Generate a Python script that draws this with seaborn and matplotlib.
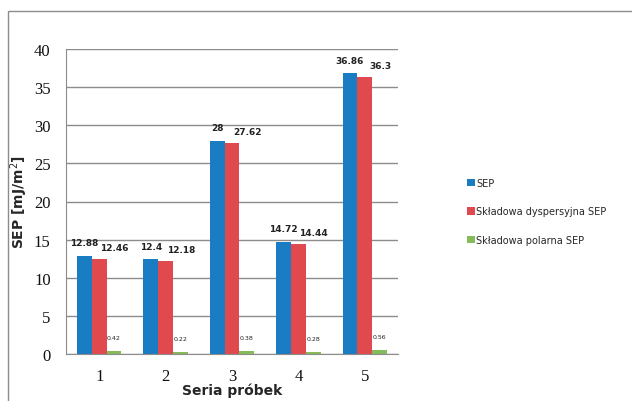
import pandas as pd
import matplotlib.pyplot as plt
import seaborn as sns
from matplotlib.patches import Rectangle
from matplotlib.ticker import FixedLocator

series = ['1', '2', '3', '4', '5']
sep = [12.88, 12.4, 28, 14.72, 36.86]
sep_disp = [12.46, 12.18, 27.62, 14.44, 36.3]
sep_pol = [0.42, 0.22, 0.38, 0.28, 0.56]
names = ['SEP', 'Składowa dyspersyjna SEP', 'Składowa polarna SEP']
colors = ['#1a7cc2', '#e04a4f', '#86bb5a']


def make_chart():
    rows = []
    for name, vals in zip(names, [sep, sep_disp, sep_pol]):
        for s, v in zip(series, vals):
            rows.append({'seria': s, 'wartosc': v, 'skladowa': name})
    df = pd.DataFrame(rows)

    sns.set_style('white')
    fig = plt.figure(figsize=(6.32, 4.02), dpi=100)
    ax = fig.add_axes([66/632, 47/402, 332/632, 305/402])

    sns.barplot(data=df, x='seria', y='wartosc', hue='skladowa',
                palette=colors, width=0.67, gap=0, ax=ax, linewidth=0,
                saturation=1, errorbar=None, legend=True)

    ax.set_ylim(0, 40)
    ax.set_xlim(-0.5, 4.5)
    ax.set_yticks(range(0, 41, 5))
    ax.grid(axis='y', color='#8c8c8c', linewidth=1)
    ax.set_axisbelow(True)
    for side in ['top', 'right']:
        ax.spines[side].set_visible(False)
    for side in ['left', 'bottom']:
        ax.spines[side].set_color('#8c8c8c')
    ax.tick_params(axis='y', length=5, color='#8c8c8c', pad=6)
    ax.tick_params(axis='x', which='major', length=0, pad=10)
    ax.xaxis.set_minor_locator(FixedLocator([-0.5, 0.5, 1.5, 2.5, 3.5, 4.5]))
    ax.tick_params(axis='x', which='minor', length=6, color='#8c8c8c')
    for lab in ax.get_xticklabels() + ax.get_yticklabels():
        lab.set_fontfamily('Liberation Serif')
        lab.set_fontsize(12)
        lab.set_color('#111111')

    ax.set_xlabel('Seria próbek', fontweight='bold', fontsize=10, labelpad=-1)
    ax.set_ylabel('SEP [mJ/m$^2$]', fontweight='bold', fontsize=10, labelpad=3)

    # data labels
    for cont, vals, dx, dy, fs, fw in zip(ax.containers, [sep, sep_disp, sep_pol],
                                          [0, 11, 0], [6, 5, 8], [6.5, 6.5, 4.5],
                                          ['bold', 'bold', 'normal']):
        for bar, v in zip(cont, vals):
            x = bar.get_x() + bar.get_width() / 2
            ax.annotate(f'{v:g}', (x, bar.get_height()), xytext=(dx, dy),
                        textcoords='offset points', ha='center', va='bottom',
                        fontsize=fs, fontweight=fw, color='#222222')

    ax.get_legend().remove()
    handles, labels = ax.get_legend_handles_labels()
    fig.legend(handles, labels, loc='upper left', bbox_to_anchor=(458/632, 1 - 170/402),
               frameon=False, fontsize=7, handlelength=0.8, handleheight=0.8,
               handletextpad=0.2, labelspacing=1.9)

    # outer chart frame
    fig.patches.append(Rectangle((8/632, -0.1), 1.2, 1 - 12/402 + 0.1,
                                 transform=fig.transFigure, fill=False,
                                 edgecolor='#8c8c8c', linewidth=1))

    fig.savefig('out.png', dpi=100)
    plt.close(fig)


if __name__ == '__main__':
    make_chart()
